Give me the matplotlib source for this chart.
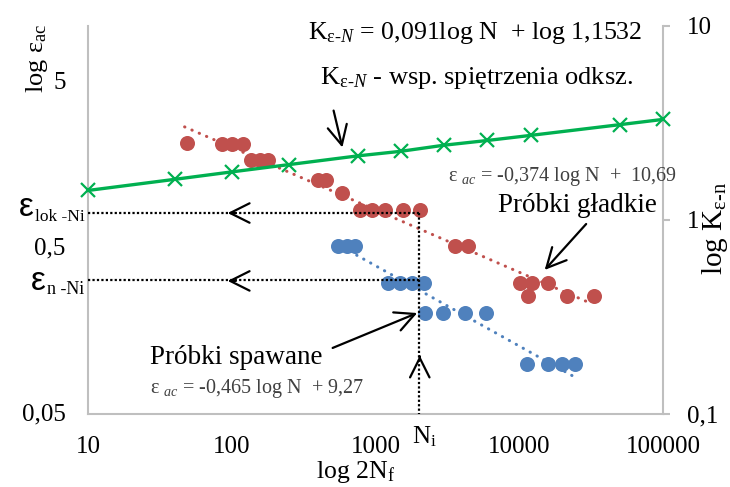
import matplotlib
matplotlib.use('Agg')
import matplotlib.pyplot as plt
from matplotlib.ticker import NullLocator

plt.rcParams['font.family'] = 'Liberation Serif'
plt.rcParams['mathtext.fontset'] = 'custom'
plt.rcParams['mathtext.rm'] = 'Liberation Serif'
plt.rcParams['mathtext.it'] = 'Liberation Serif:italic'

# K (strain concentration factor) line
k_n = [10, 40, 100, 250, 750, 1500, 3000, 6000, 12000, 50000, 100000]
k_val = [1.42, 1.62, 1.77, 1.93, 2.14, 2.26, 2.43, 2.57, 2.73, 3.10, 3.30]

# smooth specimens (red)
red_n = [49, 85, 100, 120, 136, 157, 179, 400, 453, 585, 780, 946, 1164, 1553, 2042,
         3570, 4400, 10100, 11500, 12300, 15800, 21500, 33000]
red_eps = [2.09, 2.07, 2.07, 2.07, 1.65, 1.65, 1.65, 1.25, 1.25, 1.04, 0.82, 0.82, 0.82, 0.82, 0.82,
           0.50, 0.50, 0.30, 0.25, 0.30, 0.30, 0.25, 0.25]
red_trend_n = [47, 31000]
red_trend_eps = [2.61, 0.227]

# welded specimens (blue)
blue_n = [548, 630, 720, 1220, 1480, 1800, 2170, 2200, 2950, 4200, 5870, 11300, 15800, 19800, 24400]
blue_eps = [0.50, 0.50, 0.50, 0.30, 0.30, 0.30, 0.30, 0.197, 0.197, 0.197, 0.197,
            0.097, 0.097, 0.097, 0.097]
blue_trend_n = [740, 24400]
blue_trend_eps = [0.44, 0.081]

Ni = 2000
eps_lok = 0.79
eps_n = 0.31

left_ticks = [0.05, 0.5, 5]
left_labels = ['0,05', '0,5', '5']
right_ticks = [0.1, 1, 10]
right_labels = ['0,1', '1', '10']
x_ticks = [10, 100, 1000, 10000, 100000]
x_labels = ['10', '100', '1000', '10000', '100000']

RED = '#C0504D'
BLUE = '#4F81BD'
GREEN = '#00B050'
GRAY = '#BFBFBF'
EQ = '#404040'

fig = plt.figure(figsize=(7.3, 4.87), dpi=100)
ax = fig.add_axes([88/730, 1-414/487, 575/730, 388/487])
ax.set_xscale('log')
ax.set_yscale('log')
ax.set_xlim(10, 100000)
ymin = 0.0486
ax.set_ylim(ymin, 10.58)

ax2 = ax.twinx()
ax2.set_yscale('log')
ax2.set_ylim(0.1, 10)

for a in (ax, ax2):
    for s in a.spines.values():
        s.set_color(GRAY)
        s.set_linewidth(1.5)
ax.spines['top'].set_visible(False)
ax.spines['right'].set_visible(False)
ax2.spines['top'].set_visible(False)
ax2.spines['left'].set_visible(False)
ax2.spines['bottom'].set_visible(False)

ax.set_xticks(x_ticks)
ax.set_xticklabels(x_labels)
ax.set_yticks(left_ticks)
ax.set_yticklabels(left_labels)
ax.xaxis.set_minor_locator(NullLocator())
ax.yaxis.set_minor_locator(NullLocator())
ax2.set_yticks(right_ticks)
ax2.set_yticklabels(right_labels)
ax2.yaxis.set_minor_locator(NullLocator())

ax.tick_params(axis='x', length=0, pad=16, labelsize=18)
ax.tick_params(axis='y', length=0, pad=16, labelsize=18)
ax2.tick_params(axis='y', length=5, width=1.5, color=GRAY, pad=12, labelsize=18)

# data
ax.scatter(red_n, red_eps, s=117, color=RED, linewidths=0, zorder=3)
ax.scatter(blue_n, blue_eps, s=117, color=BLUE, linewidths=0, zorder=3)
ax.plot(red_trend_n, red_trend_eps, color=RED, lw=2.2, ls=(0, (0.1, 2.5)),
        dash_capstyle='round', zorder=4)
ax.plot(blue_trend_n, blue_trend_eps, color=BLUE, lw=2.2, ls=(0, (0.1, 2.5)),
        dash_capstyle='round', zorder=4)

# reference lines
ax.plot([10, Ni], [eps_lok, eps_lok], color='black', lw=1.6, ls=(0, (1, 1)), zorder=5)
ax.plot([Ni, Ni], [eps_lok, ymin], color='black', lw=1.6, ls=(0, (1, 1)), zorder=5, clip_on=False)
ax.plot([10, Ni], [eps_n, eps_n], color='black', lw=1.6, ls=(0, (1, 1)), zorder=5)

ax2.plot(k_n, k_val, color=GREEN, lw=2.4, marker='x', ms=10, mew=1.6, clip_on=False, zorder=3)

# arrows (axes fraction)
def arrow(tail, tip):
    ax2.annotate('', xy=tip, xytext=tail, xycoords='axes fraction', textcoords='axes fraction',
                 arrowprops=dict(arrowstyle='->, head_length=0.7, head_width=0.35',
                                 color='black', lw=1.6, mutation_scale=20))

arrow((0.426, 0.789), (0.4435, 0.680))
arrow((0.262, 0.518), (0.238, 0.518))
arrow((0.262, 0.343), (0.238, 0.343))
arrow((0.577, 0.140), (0.577, 0.158))
arrow((0.421, 0.1675), (0.577, 0.263))
arrow((0.8696, 0.495), (0.791, 0.366))

# texts
fig.text(308/730, 1-33/487, r'K$_{\mathrm{\epsilon\text{-}}N}$ = 0,091log N  + log 1,1532',
         fontsize=18.6, ha='left', va='center')
fig.text(320/730, 1-78/487, r'K$_{\mathrm{\epsilon\text{-}}N}$ - wsp. spiętrzenia odksz.',
         fontsize=19, ha='left', va='center')
fig.text(448/730, 1-177/487, r'ε $_{ac}$ = -0,374 log N  +  10,69', fontsize=14.5,
         color=EQ, ha='left', va='center')
fig.text(498/730, 1-206/487, 'Próbki gładkie', fontsize=19.5, ha='left', va='center')
fig.text(150/730, 1-357/487, 'Próbki spawane', fontsize=19.5, ha='left', va='center')
fig.text(150/730, 1-388/487, r'ε $_{ac}$ = -0,465 log N  + 9,27', fontsize=14.5,
         color=EQ, ha='left', va='center')
fig.text(412/730, 1-437/487, r'N$_\mathrm{i}$', fontsize=18, ha='left', va='center')
fig.text(316/730, 1-472/487, r'log 2N$_\mathrm{f}$', fontsize=18.5, ha='left', va='center')

fig.text(37/730, 1-58/487, r'log ε$_\mathrm{ac}$', fontsize=19, rotation=90,
         ha='center', va='center')
fig.text(715/730, 1-228/487, r'log K$_\mathrm{\epsilon\text{-}n}$', fontsize=21, rotation=90,
         ha='center', va='center')

# eps_lok / eps_n labels on the left
fig.text(34/730, 1-208/487, 'ε', fontsize=24, family='Liberation Sans', ha='right', va='center')
fig.text(35/730, 1-217/487, r'lok -Ni', fontsize=12.5, ha='left', va='center')
fig.text(46/730, 1-281/487, 'ε', fontsize=24, family='Liberation Sans', ha='right', va='center')
fig.text(47/730, 1-290/487, r'n -Ni', fontsize=13, ha='left', va='center')

fig.savefig('out.png', dpi=100)
